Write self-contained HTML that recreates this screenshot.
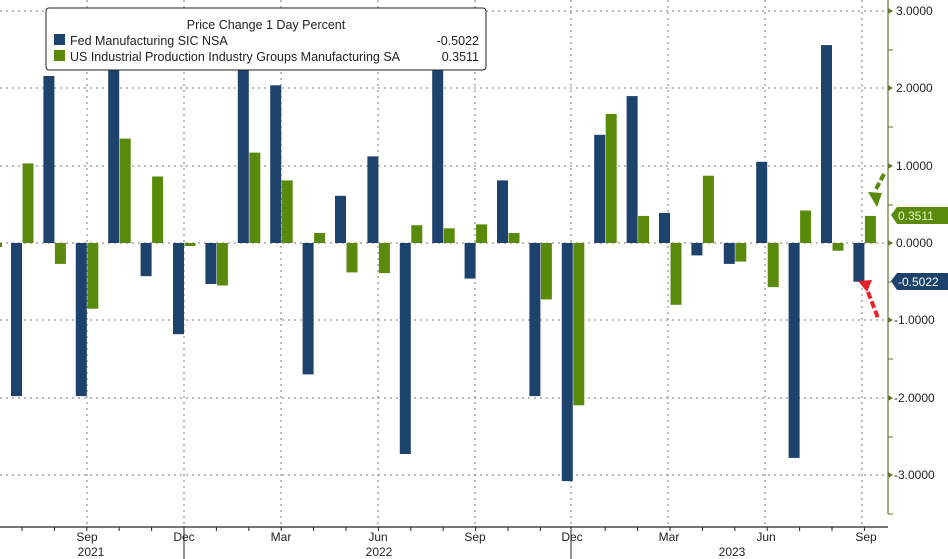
<!DOCTYPE html>
<html><head><meta charset="utf-8"><style>
html,body{margin:0;padding:0;background:#fff;}
svg{display:block;font-family:"Liberation Sans",sans-serif;}
</style></head><body>
<svg width="948" height="559" viewBox="0 0 948 559" xmlns="http://www.w3.org/2000/svg">
<rect width="948" height="559" fill="#fff"/>
<g stroke="#777" stroke-width="1" stroke-dasharray="2,4">
<line x1="0" y1="11" x2="888" y2="11"/><line x1="0" y1="88" x2="888" y2="88"/>
<line x1="0" y1="166" x2="888" y2="166"/><line x1="0" y1="243" x2="888" y2="243"/>
<line x1="0" y1="320" x2="888" y2="320"/><line x1="0" y1="398" x2="888" y2="398"/>
<line x1="0" y1="475" x2="888" y2="475"/>
<line x1="87" y1="0" x2="87" y2="527"/><line x1="184" y1="0" x2="184" y2="527"/>
<line x1="281" y1="0" x2="281" y2="527"/><line x1="378" y1="0" x2="378" y2="527"/>
<line x1="475" y1="0" x2="475" y2="527"/><line x1="571" y1="0" x2="571" y2="527"/>
<line x1="668" y1="0" x2="668" y2="527"/><line x1="765" y1="0" x2="765" y2="527"/>
<line x1="862" y1="0" x2="862" y2="527"/>
</g>
<g fill="#1d426b">
<rect x="11" y="243" width="11" height="153.1"/>
<rect x="43.4" y="76" width="11" height="167"/>
<rect x="75.8" y="243" width="11" height="153.1"/>
<rect x="108.2" y="49.7" width="11" height="193.3"/>
<rect x="140.6" y="243" width="11" height="33.2"/>
<rect x="173" y="243" width="11" height="91.2"/>
<rect x="205.4" y="243" width="11" height="41"/>
<rect x="237.8" y="49.7" width="11" height="193.3"/>
<rect x="270.2" y="85.3" width="11" height="157.7"/>
<rect x="302.6" y="243" width="11" height="131.4"/>
<rect x="335" y="195.8" width="11" height="47.2"/>
<rect x="367.4" y="156.4" width="11" height="86.6"/>
<rect x="399.8" y="243" width="11" height="211"/>
<rect x="432.2" y="49.7" width="11" height="193.3"/>
<rect x="464.6" y="243" width="11" height="35.6"/>
<rect x="497" y="180.4" width="11" height="62.6"/>
<rect x="529.4" y="243" width="11" height="153.1"/>
<rect x="561.8" y="243" width="11" height="238.1"/>
<rect x="594.2" y="134.8" width="11" height="108.2"/>
<rect x="626.6" y="96.1" width="11" height="146.9"/>
<rect x="659" y="212.9" width="11" height="30.1"/>
<rect x="691.4" y="243" width="11" height="12.4"/>
<rect x="723.8" y="243" width="11" height="20.9"/>
<rect x="756.2" y="161.8" width="11" height="81.2"/>
<rect x="788.6" y="243" width="11" height="214.9"/>
<rect x="821" y="45.1" width="11" height="197.9"/>
<rect x="853.4" y="243" width="11" height="38.7"/>
</g>
<g fill="#5a8a0b">
<rect x="-9" y="243" width="11" height="4"/>
<rect x="22.5" y="163.4" width="11" height="79.6"/>
<rect x="54.9" y="243" width="11" height="20.9"/>
<rect x="87.3" y="243" width="11" height="65.7"/>
<rect x="119.7" y="138.6" width="11" height="104.4"/>
<rect x="152.1" y="176.5" width="11" height="66.5"/>
<rect x="184.5" y="243" width="11" height="3.1"/>
<rect x="216.9" y="243" width="11" height="42.5"/>
<rect x="249.3" y="152.6" width="11" height="90.4"/>
<rect x="281.7" y="180.4" width="11" height="62.6"/>
<rect x="314.1" y="233" width="11" height="10"/>
<rect x="346.5" y="243" width="11" height="29.4"/>
<rect x="378.9" y="243" width="11" height="30.1"/>
<rect x="411.3" y="225.2" width="11" height="17.8"/>
<rect x="443.7" y="228.3" width="11" height="14.7"/>
<rect x="476.1" y="224.4" width="11" height="18.6"/>
<rect x="508.5" y="233" width="11" height="10"/>
<rect x="540.9" y="243" width="11" height="56.4"/>
<rect x="573.3" y="243" width="11" height="162.3"/>
<rect x="605.7" y="113.9" width="11" height="129.1"/>
<rect x="638.1" y="215.9" width="11" height="27.1"/>
<rect x="670.5" y="243" width="11" height="61.8"/>
<rect x="702.9" y="175.7" width="11" height="67.3"/>
<rect x="735.3" y="243" width="11" height="18.6"/>
<rect x="767.7" y="243" width="11" height="44.1"/>
<rect x="800.1" y="210.5" width="11" height="32.5"/>
<rect x="832.5" y="243" width="11" height="7.7"/>
<rect x="864.9" y="215.9" width="11" height="27.1"/>
</g>
<rect x="46" y="8" width="440" height="62" rx="3" fill="#fff" stroke="#222" stroke-width="1"/>
<text x="266" y="29" font-size="12.5" text-anchor="middle" fill="#222">Price Change 1 Day Percent</text>
<rect x="54" y="34" width="11" height="11" fill="#1d426b"/>
<text x="70" y="45" font-size="12.5" fill="#222">Fed Manufacturing SIC NSA</text>
<text x="479" y="45" font-size="12.5" fill="#222" text-anchor="end">-0.5022</text>
<rect x="54" y="50" width="11" height="11" fill="#5a8a0b"/>
<text x="70" y="61" font-size="12.5" fill="#222">US Industrial Production Industry Groups Manufacturing SA</text>
<text x="479" y="61" font-size="12.5" fill="#222" text-anchor="end">0.3511</text>
<line x1="888" y1="0" x2="888" y2="514" stroke="#5a7a2a" stroke-width="1.2"/>
<line x1="0" y1="527" x2="888" y2="527" stroke="#222" stroke-width="1.2"/>
<g fill="#5a7a2a"><path d="M888 8l5 3-5 3z"/><path d="M888 85l5 3-5 3z"/><path d="M888 163l5 3-5 3z"/><path d="M888 240l5 3-5 3z"/><path d="M888 317l5 3-5 3z"/><path d="M888 395l5 3-5 3z"/><path d="M888 472l5 3-5 3z"/></g>
<g stroke="#5a7a2a"><line x1="888" y1="50" x2="893" y2="50"/><line x1="888" y1="127" x2="893" y2="127"/><line x1="888" y1="205" x2="893" y2="205"/><line x1="888" y1="282" x2="893" y2="282"/><line x1="888" y1="359" x2="893" y2="359"/><line x1="888" y1="437" x2="893" y2="437"/><line x1="888" y1="514" x2="893" y2="514"/></g>
<g fill="#222" font-size="12">
<text x="896" y="15">3.0000</text><text x="896" y="92">2.0000</text><text x="896" y="170">1.0000</text>
<text x="896" y="247">0.0000</text><text x="894" y="324">-1.0000</text><text x="894" y="402">-2.0000</text>
<text x="894" y="479">-3.0000</text>
</g>
<path d="M891 215l6-8h51v17h-51z" fill="#5a8a0b"/>
<text x="898" y="220" font-size="12" fill="#e6f5c0">0.3511</text>
<path d="M891 281l6-8h51v17h-51z" fill="#1d426b"/>
<text x="898" y="286" font-size="12" fill="#fff">-0.5022</text>
<path d="M868 192l9 15 5-14z" fill="#5a8a0b"/>
<line x1="876" y1="189" x2="884" y2="174" stroke="#5a8a0b" stroke-width="4" stroke-dasharray="7,3"/>
<path d="M858 281l14-1-5 12z" fill="#e8202a"/>
<line x1="868" y1="292" x2="878" y2="318" stroke="#e8202a" stroke-width="4" stroke-dasharray="7,3"/>
<g stroke="#222"><line x1="184" y1="527" x2="184" y2="559"/><line x1="571" y1="527" x2="571" y2="559"/></g>
<path stroke="#222" d="M22 527v4M54.4 527v4M86.8 527v4M119.2 527v4M151.6 527v4M216.4 527v4M248.8 527v4M281.2 527v4M313.6 527v4M346 527v4M378.4 527v4M410.8 527v4M443.2 527v4M475.6 527v4M508 527v4M540.4 527v4M605.2 527v4M637.6 527v4M670 527v4M702.4 527v4M734.8 527v4M767.2 527v4M799.6 527v4M832 527v4M864.4 527v4"/>
<g fill="#222" font-size="12" text-anchor="middle">
<text x="87" y="541">Sep</text><text x="184" y="541">Dec</text><text x="281" y="541">Mar</text>
<text x="378" y="541">Jun</text><text x="475" y="541">Sep</text><text x="572" y="541">Dec</text>
<text x="669" y="541">Mar</text><text x="766" y="541">Jun</text><text x="866" y="541">Sep</text>
<text x="91" y="556">2021</text><text x="379" y="556">2022</text><text x="732" y="556">2023</text>
</g>
</svg>
</body></html>
